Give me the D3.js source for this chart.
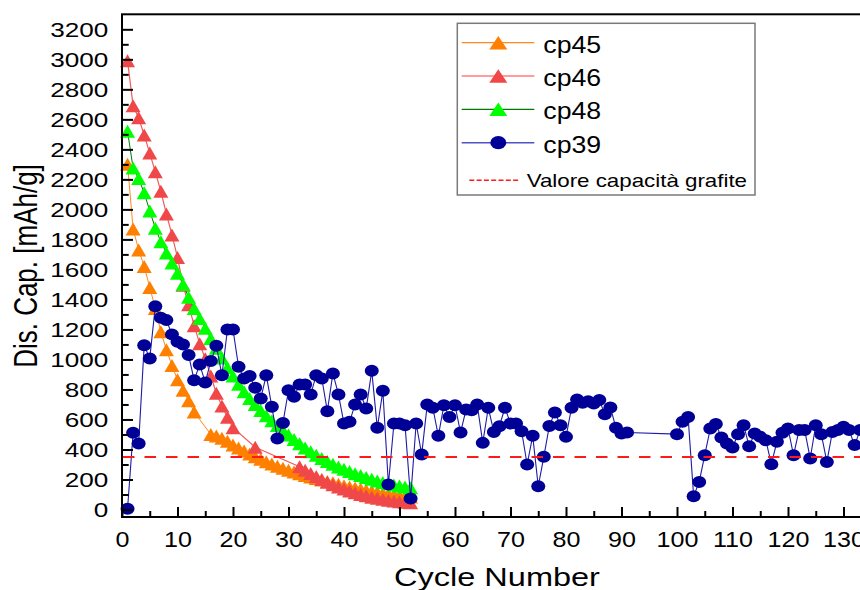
<!DOCTYPE html>
<html>
<head>
<meta charset="utf-8">
<script src="https://cdn.jsdelivr.net/npm/d3@7"></script>
<style>
  html, body { margin: 0; padding: 0; background: #fff; }
  svg { display: block; font-family: "Liberation Sans", Arial, sans-serif; }
</style>
</head>
<body>
<svg id="chart" width="860" height="590"></svg>
<script>
// ---- axis ticks ----
const xTicks = d3.range(0, 131, 10);
const xMinorTicks = d3.range(5, 130, 10);
const yTicks = d3.range(0, 3201, 200);
const yMinorTicks = d3.range(100, 3200, 200);

// ---- reference level (graphite capacity, mAh/g) ----
const graphiteCapacity = 350;

// ---- series: cycle numbers and discharge capacity (mAh/g) ----
const cp45Cycles = [...d3.range(1, 14), ...d3.range(16, 53)];
const cp45Values = [2300, 1870, 1730, 1620, 1480, 1340, 1185, 1065, 960, 865, 795, 725, 650,
  500, 490, 475, 455, 430, 410, 390, 370, 352, 335, 318, 303, 289, 275, 262, 250, 238, 227,
  216, 206, 196, 187, 178, 168, 158, 150, 143, 136, 129, 122, 115, 109, 103, 98, 93, 88, 84];

const cp46Cycles = [...d3.range(1, 21), 24, ...d3.range(32, 53)];
const cp46Values = [2990, 2690, 2610, 2495, 2375, 2250, 2120, 1970, 1830, 1680, 1495, 1365,
  1225, 1105, 1005, 890, 775, 690, 615, 545,
  415,
  285, 262, 240, 220, 200, 182, 165, 150, 136, 123, 111, 100, 91, 82, 75, 68, 62, 57, 52, 48, 45];

const cp48Cycles = d3.range(1, 53);
const cp48Values = [2520, 2275, 2205, 2110, 1990, 1875, 1785, 1710, 1642, 1575,
  1500, 1415, 1340, 1273, 1207, 1140, 1075, 1010, 945, 890,
  835, 785, 740, 700, 660, 625, 592, 560, 528, 497,
  467, 438, 410, 385, 362, 340, 320, 301, 284, 268,
  253, 239, 226, 213, 201, 190, 180, 171, 163, 156, 150, 145];

const cp39Cycles = [...d3.range(1, 92), ...d3.range(100, 134)];
const cp39Values = [5, 511, 440, 1095, 1007, 1355, 1278, 1262, 1167, 1118,
  1100, 1029, 862, 967, 847, 989, 1091, 895, 1200, 1200,
  951, 873, 889, 811, 740, 895, 684, 473, 577, 795,
  751, 833, 833, 767, 895, 873, 655, 907, 767, 573,
  584, 700, 767, 673, 924, 544, 791, 167, 573, 573,
  562, 73, 573, 367, 700, 678, 491, 695, 617, 695,
  513, 667, 662, 700, 444, 678, 517, 555, 678, 573,
  573, 522, 300, 491, 155, 351, 557, 647, 562, 484,
  678, 733, 711, 722, 707, 729, 635, 680, 544, 507,
  513,
  502, 584, 617, 89, 184, 362, 540, 569, 480, 440,
  413, 502, 562, 422, 507, 484, 462, 302, 451, 511,
  540, 362, 529, 529, 340, 562, 502, 317, 517, 529,
  551, 529, 429, 529];

const seriesNames = ["cp45", "cp46", "cp48", "cp39"];
const refLabel = "Valore capacità grafite";

// ---- styling ----
const styles = {
  cp45: { marker: "triangle", fill: "#ff8000", line: "#ff8a1c", lineWidth: 1, legendLine: "#ff8a1c", legendWidth: 1.2 },
  cp46: { marker: "triangle", fill: "#f04848", line: "#f25a5a", lineWidth: 1.2, legendLine: "#ff9c9c", legendWidth: 2 },
  cp48: { marker: "triangle", fill: "#00ff00", line: "#007a00", lineWidth: 1, legendLine: "#007a00", legendWidth: 1.2 },
  cp39: { marker: "circle", fill: "#000096", line: "#1c1ca6", lineWidth: 1.1, legendLine: "#5050c8", legendWidth: 1.5 }
};

const series = [
  { name: "cp45", cycles: cp45Cycles, values: cp45Values },
  { name: "cp46", cycles: cp46Cycles, values: cp46Values },
  { name: "cp48", cycles: cp48Cycles, values: cp48Values },
  { name: "cp39", cycles: cp39Cycles, values: cp39Values }
].map(s => ({ ...s, points: s.cycles.map((c, i) => ({ c, v: s.values[i] })) }));

const svg = d3.select("#chart");
const plotLeft = 122, plotRight = 865.7, plotTop = 14.3, plotBottom = 517;

const x = d3.scaleLinear().domain([0, 134]).range([plotLeft, plotRight]);
const y = d3.scaleLinear().domain([-50, 3300]).range([plotBottom, plotTop]);

const triPath = (w, h) => `M0,${-h / 2}L${w / 2},${h / 2}L${-w / 2},${h / 2}Z`;

// ---- series lines and markers ----
const line = d3.line().x(d => x(d.c)).y(d => y(d.v));
const plot = svg.append("g");

series.forEach(s => {
  const st = styles[s.name];
  const g = plot.append("g");
  g.append("path")
    .datum(s.points)
    .attr("d", line)
    .attr("fill", "none")
    .attr("stroke", st.line)
    .attr("stroke-width", st.lineWidth);
  if (st.marker === "triangle") {
    g.selectAll("path.m").data(s.points).join("path")
      .attr("class", "m")
      .attr("d", triPath(15, 13))
      .attr("transform", d => `translate(${x(d.c)},${y(d.v)})`)
      .attr("fill", st.fill);
  } else {
    g.selectAll("ellipse").data(s.points).join("ellipse")
      .attr("cx", d => x(d.c))
      .attr("cy", d => y(d.v))
      .attr("rx", 7)
      .attr("ry", 6)
      .attr("fill", st.fill);
  }
});

// ---- graphite capacity reference line ----
svg.append("line")
  .attr("x1", plotLeft + 1).attr("x2", 860)
  .attr("y1", y(graphiteCapacity)).attr("y2", y(graphiteCapacity))
  .attr("stroke", "#ff1a1a")
  .attr("stroke-width", 2)
  .attr("stroke-dasharray", "11.5,10");

// ---- frame ----
svg.append("rect")
  .attr("x", plotLeft).attr("y", plotTop)
  .attr("width", plotRight - plotLeft + 20).attr("height", plotBottom - plotTop)
  .attr("fill", "none")
  .attr("stroke", "#000")
  .attr("stroke-width", 2);

// ---- y axis ----
const yAxisG = svg.append("g")
  .attr("transform", `translate(${plotLeft},0)`)
  .call(d3.axisLeft(y).tickValues(yTicks).tickFormat(d3.format("d"))
    .tickSizeInner(-11).tickSizeOuter(0).tickPadding(14));
const yMinorG = svg.append("g")
  .attr("transform", `translate(${plotLeft},0)`)
  .call(d3.axisLeft(y).tickValues(yMinorTicks).tickSizeInner(-6.7).tickSizeOuter(0).tickFormat(""));
[yAxisG, yMinorG].forEach(g => {
  g.select(".domain").remove();
  g.selectAll(".tick line").attr("stroke", "#000").attr("stroke-width", 2);
});
yAxisG.attr("font-family", null).attr("font-size", 19.5);
yAxisG.selectAll(".tick text")
  .attr("fill", "#000")
  .attr("x", 0)
  .attr("dy", "0.36em")
  .attr("transform", "translate(-13.7,0) scale(1.34,1)");

// ---- x axis ----
const xAxisG = svg.append("g")
  .attr("transform", `translate(0,${plotBottom})`)
  .call(d3.axisBottom(x).tickValues(xTicks).tickFormat(d3.format("d"))
    .tickSizeInner(-10).tickSizeOuter(0).tickPadding(0));
const xMinorG = svg.append("g")
  .attr("transform", `translate(0,${plotBottom})`)
  .call(d3.axisBottom(x).tickValues(xMinorTicks).tickSizeInner(-6).tickSizeOuter(0).tickFormat(""));
[xAxisG, xMinorG].forEach(g => {
  g.select(".domain").remove();
  g.selectAll(".tick line").attr("stroke", "#000").attr("stroke-width", 2);
});
xAxisG.attr("font-family", null).attr("font-size", 22);
xAxisG.selectAll(".tick text")
  .attr("fill", "#000")
  .attr("y", 0)
  .attr("dy", 0)
  .attr("transform", "translate(0,29.7) scale(1.14,1)");

// ---- axis titles ----
svg.append("text")
  .attr("text-anchor", "middle")
  .attr("font-size", 25)
  .attr("transform", "translate(497,586) scale(1.3,1)")
  .text("Cycle Number");

svg.append("text")
  .attr("text-anchor", "middle")
  .attr("font-size", 26)
  .attr("transform", "translate(37,266) scale(1.25,1) rotate(-90)")
  .text("Dis. Cap. [mAh/g]");

// ---- legend ----
const legend = svg.append("g");
legend.append("rect")
  .attr("x", 457.3).attr("y", 23.3)
  .attr("width", 297.7).attr("height", 171.7)
  .attr("fill", "#fff")
  .attr("stroke", "#7a7a7a")
  .attr("stroke-width", 1.5);

const rowY = [42.7, 76, 109.3, 142.7];
seriesNames.forEach((name, i) => {
  const st = styles[name];
  const row = legend.append("g").attr("transform", `translate(0,${rowY[i]})`);
  row.append("line")
    .attr("x1", 461.7).attr("x2", 534.3)
    .attr("y1", 0).attr("y2", 0)
    .attr("stroke", st.legendLine)
    .attr("stroke-width", st.legendWidth);
  if (st.marker === "triangle") {
    row.append("path")
      .attr("d", triPath(18, 13.5))
      .attr("transform", "translate(498.3,0)")
      .attr("fill", st.fill);
  } else {
    row.append("ellipse")
      .attr("cx", 498.3).attr("cy", 0)
      .attr("rx", 8).attr("ry", 6.6)
      .attr("fill", st.fill);
  }
  row.append("text")
    .attr("font-size", 23)
    .attr("transform", "translate(543.3,10) scale(1.16,1)")
    .text(name);
});

legend.append("line")
  .attr("x1", 469.3).attr("x2", 519.3)
  .attr("y1", 180.3).attr("y2", 180.3)
  .attr("stroke", "#ff1a1a")
  .attr("stroke-width", 1.5)
  .attr("stroke-dasharray", "5,2.3");
legend.append("text")
  .attr("font-size", 18.6)
  .attr("transform", "translate(526.7,186.7) scale(1.2,1)")
  .text(refLabel);
</script>
</body>
</html>
